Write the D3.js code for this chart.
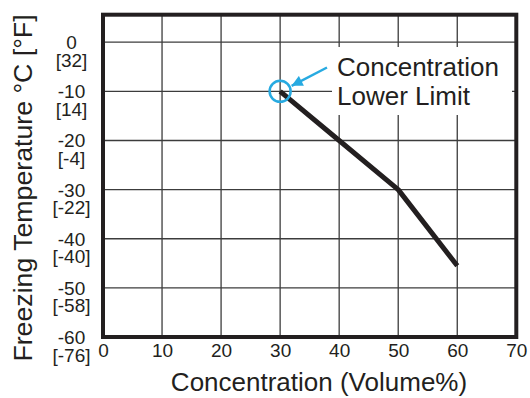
<!DOCTYPE html>
<html>
<head>
<meta charset="utf-8">
<script src="https://cdn.jsdelivr.net/npm/d3@7"></script>
<style>
  body { margin: 0; background: #fff; }
  svg { display: block; font-family: "Liberation Sans", Arial, Helvetica, sans-serif; }
</style>
</head>
<body>
<svg id="chart" width="530" height="398"></svg>
<script>
// data
const concentration = [30, 40, 50, 60];
const freezeTempC = [-10, -20, -30, -45.5];

const xTicks = [0, 10, 20, 30, 40, 50, 60, 70];
const yTicksC = [0, -10, -20, -30, -40, -50, -60];
const yTicksF = ["[32]", "[14]", "[-4]", "[-22]", "[-40]", "[-58]", "[-76]"];

const noteLines = ["Concentration", "Lower Limit"];
const limitPoint = {x: 30, y: -10};

var svg = d3.select("#chart");
var ink = "#231f20",
    blue = "#27aae1";

var x = d3.scaleLinear().domain([0, 70]).range([103, 516.3]);
var y = d3.scaleLinear().domain([-60, 5.6]).range([337, 14.7]);

// grid
svg.append("g")
    .selectAll("line")
    .data(xTicks.slice(1, -1))
    .enter().append("line")
    .attr("x1", d => x(d)).attr("x2", d => x(d))
    .attr("y1", y.range()[1]).attr("y2", y.range()[0])
    .attr("stroke", "#3c3c3c")
    .attr("stroke-width", 1.3);

svg.append("g")
    .selectAll("line")
    .data(yTicksC.slice(0, -1))
    .enter().append("line")
    .attr("x1", x.range()[0]).attr("x2", x.range()[1])
    .attr("y1", d => y(d)).attr("y2", d => y(d))
    .attr("stroke", "#3c3c3c")
    .attr("stroke-width", 1.3);

// white box behind the note
svg.append("rect")
    .attr("x", 332).attr("y", 47)
    .attr("width", 180).attr("height", 68)
    .attr("fill", "#fff");

// curve
var line = d3.line()
    .x(d => x(d[0]))
    .y(d => y(d[1]));

svg.append("path")
    .datum(d3.zip(concentration, freezeTempC))
    .attr("d", line)
    .attr("fill", "none")
    .attr("stroke", ink)
    .attr("stroke-width", 5)
    .attr("stroke-linejoin", "round");

// frame
svg.append("rect")
    .attr("x", x(0)).attr("y", y(5.6))
    .attr("width", x(70) - x(0))
    .attr("height", y(-60) - y(5.6))
    .attr("fill", "none")
    .attr("stroke", ink)
    .attr("stroke-width", 4);

// x axis
var xAxis = svg.append("g")
    .attr("transform", "translate(0," + y(-60) + ")")
    .call(d3.axisBottom(x).tickValues(xTicks).tickSize(0).tickPadding(0));
xAxis.select(".domain").remove();
xAxis.selectAll("text")
    .attr("y", 20)
    .attr("dy", 0)
    .attr("fill", ink)
    .style("font-size", "19px")
    .style("font-family", "Liberation Sans, Arial, sans-serif");

// y axis, two-line labels (C and F)
var yAxis = svg.append("g")
    .attr("transform", "translate(" + x(0) + ",0)")
    .call(d3.axisLeft(y).tickValues(yTicksC).tickSize(0).tickFormat(d => String(d)));
yAxis.select(".domain").remove();
yAxis.selectAll("text")
    .attr("x", -31.5)
    .attr("dy", 0)
    .attr("y", 6.5)
    .attr("text-anchor", "middle")
    .attr("fill", ink)
    .style("font-size", "19px")
    .style("font-family", "Liberation Sans, Arial, sans-serif");
yAxis.selectAll(".tick")
    .append("text")
    .attr("x", -31.5)
    .attr("y", 24)
    .attr("text-anchor", "middle")
    .attr("fill", ink)
    .style("font-size", "19px")
    .style("font-family", "Liberation Sans, Arial, sans-serif")
    .text((d, i) => yTicksF[i]);

// axis titles
svg.append("text")
    .attr("x", 319).attr("y", 391)
    .attr("text-anchor", "middle")
    .attr("fill", ink)
    .style("font-size", "26px")
    .text("Concentration (Volume%)");

svg.append("text")
    .attr("transform", "translate(32,188) rotate(-90)")
    .attr("text-anchor", "middle")
    .attr("fill", ink)
    .style("font-size", "26.7px")
    .text("Freezing Temperature \u00b0C [\u00b0F]");

// concentration lower limit marker
svg.append("circle")
    .attr("cx", x(limitPoint.x)).attr("cy", y(limitPoint.y))
    .attr("r", 10.5)
    .attr("fill", "none")
    .attr("stroke", blue)
    .attr("stroke-width", 2.5);

svg.append("defs").append("marker")
    .attr("id", "head")
    .attr("viewBox", "0 0 10 10")
    .attr("refX", 10).attr("refY", 5)
    .attr("markerWidth", 12).attr("markerHeight", 11)
    .attr("markerUnits", "userSpaceOnUse")
    .attr("orient", "auto")
    .append("path")
    .attr("d", "M0,0L10,5L0,10z")
    .attr("fill", blue);

svg.append("line")
    .attr("x1", 327).attr("y1", 67.5)
    .attr("x2", x(limitPoint.x) + 11.5).attr("y2", y(limitPoint.y) - 5.5)
    .attr("stroke", blue)
    .attr("stroke-width", 2.5)
    .attr("marker-end", "url(#head)");

svg.append("text")
    .attr("fill", ink)
    .style("font-size", "26px")
    .selectAll("tspan")
    .data(noteLines)
    .enter().append("tspan")
    .attr("x", 337)
    .attr("y", (d, i) => 76 + i * 29)
    .text(d => d);
</script>
</body>
</html>
